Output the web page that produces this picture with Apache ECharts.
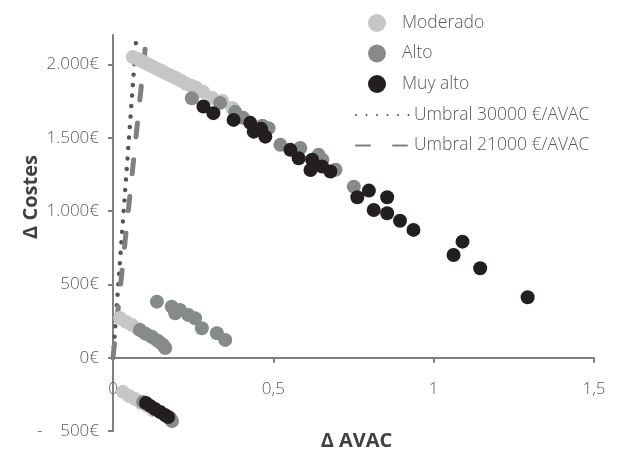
<!DOCTYPE html>
<html>
<head>
<meta charset="utf-8">
<script src="https://cdn.jsdelivr.net/npm/echarts@6/dist/echarts.min.js"></script>
<style>html,body{margin:0;padding:0;background:#fff}#c{width:626px;height:451px}</style>
</head>
<body>
<div id="c"></div>
<script>
const seriesNames = ['Moderado', 'Alto', 'Muy alto', 'Umbral 30000 €/AVAC', 'Umbral 21000 €/AVAC'];
const xTicks = [0, 0.5, 1, 1.5];
const yTicks = [-500, 0, 500, 1000, 1500, 2000];

const moderado = [
  [0.062,2050],[0.075,2038],[0.088,2024],[0.100,2010],[0.112,1997],[0.125,1983],[0.138,1969],
  [0.150,1956],[0.162,1942],[0.175,1928],[0.188,1915],[0.200,1901],[0.212,1888],[0.228,1867],
  [0.244,1854],[0.259,1840],[0.281,1813],[0.309,1772],[0.341,1751],[0.372,1703],
  [0.022,271],[0.041,244],[0.059,223],[0.078,196],[0.097,168],[0.116,148],[0.134,121],[0.153,93],
  [0.031,-233],[0.050,-261],[0.069,-282],[0.088,-309],[0.106,-329],[0.125,-357]
];
const alto = [
  [0.246,1769],[0.334,1737],[0.381,1676],[0.406,1635],[0.466,1582],[0.485,1565],[0.522,1451],
  [0.584,1430],[0.641,1383],[0.653,1349],[0.694,1281],[0.751,1166],
  [0.084,189],[0.103,162],[0.122,141],[0.141,114],[0.156,87],[0.163,66],
  [0.137,382],[0.183,348],[0.194,303],[0.209,325],[0.235,291],[0.256,269],[0.277,201],[0.324,166],[0.350,121],
  [0.094,-302],[0.178,-411],[0.184,-432]
];
const muyAlto = [
  [0.282,1712],[0.313,1667],[0.376,1621],[0.428,1601],[0.439,1541],[0.475,1507],[0.462,1560],
  [0.553,1417],[0.579,1360],[0.621,1349],[0.616,1280],[0.652,1303],[0.678,1269],
  [0.762,1094],[0.798,1139],[0.813,1007],[0.855,1094],[0.855,985],[0.895,934],[0.937,871],
  [1.062,700],[1.090,791],[1.145,610],[1.293,412],
  [0.103,-309],[0.116,-329],[0.131,-350],[0.147,-370],[0.162,-391],[0.172,-405]
];
const umbral30000 = [[0,0],[0.0722,2167]];
const umbral21000 = [[0,0],[0.102,2142]];

const FONT = '"Open Sans", Lato, sans-serif';
const TXT = '#595959';
const AX = '#7f7f7f';

function fmtEuro(v) {
  const a = Math.abs(v);
  const s = a >= 1000 ? Math.floor(a/1000) + '.' + String(a % 1000).padStart(3, '0') : String(a);
  return (v < 0 ? '-    ' : '') + s + '€';
}

const chart = echarts.init(document.getElementById('c'), null, {renderer: 'canvas'});
chart.setOption({
  animation: false,
  backgroundColor: '#fff',
  grid: {left: 113, right: 32, top: 35, bottom: 20, containLabel: false, outerBoundsMode: 'none'},
  legend: [
    {
      data: seriesNames.slice(0, 3),
      orient: 'vertical', left: 363, top: 9,
      itemWidth: 40, itemHeight: 18, itemGap: 12.5,
      textStyle: {fontFamily: FONT, fontSize: 17.5, fontWeight: 300, color: TXT},
      selectedMode: false
    },
    {
      data: seriesNames.slice(3).map(n => ({name: n, itemStyle: {opacity: 0, color: 'rgba(0,0,0,0)', borderWidth: 0}})),
      orient: 'vertical', left: 350, top: 101,
      itemWidth: 53, itemHeight: 18, itemGap: 12.5,
      textStyle: {fontFamily: FONT, fontSize: 17.5, fontWeight: 300, color: TXT},
      selectedMode: false
    }
  ],
  xAxis: {
    type: 'value', min: 0, max: 1.5, interval: 0.5,
    name: 'Δ AVAC', nameLocation: 'middle', nameGap: 0, nameMoveOverlap: false,
    nameTextStyle: {fontFamily: FONT, fontSize: 20, fontWeight: 'bold', color: '#404040', padding: [0, 0, 0, 6]},
    axisLine: {onZero: true, lineStyle: {color: AX, width: 2}},
    axisTick: {show: true, inside: false, length: 5, lineStyle: {color: AX, width: 2}},
    axisLabel: {margin: -50, fontFamily: FONT, fontSize: 17, fontWeight: 300, color: TXT,
      formatter: v => String(v).replace('.', ',')},
    splitLine: {show: false}
  },
  yAxis: {
    type: 'value', min: -500, max: 2200,
    name: 'Δ Costes', nameLocation: 'middle', nameGap: 72, nameRotate: 90, nameMoveOverlap: false,
    nameTextStyle: {fontFamily: FONT, fontSize: 20, fontWeight: 'bold', color: '#404040', padding: [0, 0, 0, 72]},
    axisLine: {onZero: false, lineStyle: {color: AX, width: 2}},
    axisTick: {show: true, length: 5, customValues: yTicks, lineStyle: {color: AX, width: 2}},
    axisLabel: {margin: 14, fontFamily: FONT, fontSize: 17, fontWeight: 300, color: TXT, customValues: yTicks,
      formatter: fmtEuro},
    splitLine: {show: false}
  },
  series: [
    {
      name: seriesNames[3], type: 'line', data: umbral30000, symbol: 'none', z: 1,
      lineStyle: {color: '#555555', width: 4.5, type: [0.01, 10.5], cap: 'round'},
      itemStyle: {color: '#555555'}
    },
    {
      name: seriesNames[4], type: 'line', data: umbral21000, symbol: 'none', z: 1,
      lineStyle: {color: '#808080', width: 5, type: [14, 23], cap: 'round'},
      itemStyle: {color: '#808080'}
    },
    {name: seriesNames[0], type: 'scatter', data: moderado, symbolSize: 14, z: 2,
      itemStyle: {color: '#c6c6c6', opacity: 1}},
    {name: seriesNames[1], type: 'scatter', data: alto, symbolSize: 14, z: 3,
      itemStyle: {color: '#878a8a', opacity: 1}},
    {name: seriesNames[2], type: 'scatter', data: muyAlto, symbolSize: 14, z: 4,
      itemStyle: {color: '#231f20', opacity: 1}}
  ]
});
</script>
</body>
</html>
